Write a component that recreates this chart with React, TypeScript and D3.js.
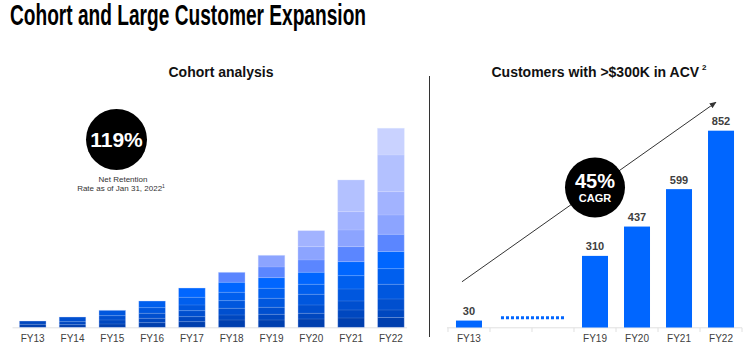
import React from "react";
import * as d3 from "d3";

// ---- Data ----
const cohortYears = ["FY13", "FY14", "FY15", "FY16", "FY17", "FY18", "FY19", "FY20", "FY21", "FY22"];
const cohortNames = ["Pre-FY13", "FY13", "FY14", "FY15", "FY16", "FY17", "FY18", "FY19", "FY20", "FY21", "FY22"];
// ARR contribution by cohort (bottom = oldest cohort), per fiscal year (relative units)
const cohortFY13 = [3, 3.3];
const cohortFY14 = [2.6, 3, 4.7];
const cohortFY15 = [3.3, 4, 4.3, 5.4];
const cohortFY16 = [4.6, 4.4, 5, 5.6, 6.7];
const cohortFY17 = [5.6, 5, 6, 5.7, 7.7, 9.3];
const cohortFY18 = [7.3, 5, 6.7, 7.6, 8.4, 10, 10];
const cohortFY19 = [7.3, 5.7, 7, 9, 10, 10.6, 10.7, 11.7];
const cohortFY20 = [8.3, 5.7, 8.3, 10.7, 10, 12, 12.3, 13.3, 16];
const cohortFY21 = [9.3, 8, 9, 12, 13.3, 14, 15, 16.7, 18.3, 31.7];
const cohortFY22 = [9.8, 7.5, 11, 14.7, 15.6, 17.2, 17.2, 19.3, 23.3, 36.7, 26.7];
const cohortStacks = [cohortFY13, cohortFY14, cohortFY15, cohortFY16, cohortFY17, cohortFY18, cohortFY19, cohortFY20, cohortFY21, cohortFY22];
const cohortColors = ["#003fae", "#0047bf", "#004fcf", "#0057de", "#005fee", "#0066ff", "#5b86ff", "#8ca4ff", "#a2b3ff", "#b3c1ff", "#c9d2ff"];

const acvCategories = ["FY13", "gapA", "gapB", "FY19", "FY20", "FY21", "FY22"];
const acvYears = ["FY13", "FY19", "FY20", "FY21", "FY22"];
const acvValues = [30, 310, 437, 599, 852];

const FONT = "'Liberation Sans', Arial, Helvetica, sans-serif";

export default function App() {
  // Left chart scales
  const xL = d3.scaleBand<string>().domain(cohortYears).range([12.8, 410.8]).paddingInner(0.33).paddingOuter(0.165);
  const yL = d3.scaleLinear().domain([0, 200]).range([327.3, 127.3]);

  // Right chart scales
  const xR = d3.scaleBand<string>().domain(acvCategories).range([448, 742]).paddingInner(0.381).paddingOuter(0.19);
  const yR = d3.scaleLinear().domain([0, 900]).range([327.5, 119.6]);
  const bwR = xR.bandwidth();
  const stepR = xR.step();

  return (
    <svg width={750} height={354} style={{ position: "absolute", left: 0, top: 0, background: "#fff" }} fontFamily={FONT}>
      <defs>
        <marker id="arr" viewBox="0 0 10 10" refX="9" refY="5" markerWidth="7" markerHeight="7" orient="auto">
          <path d="M0,1 L10,5 L0,9 z" fill="#333" />
        </marker>
      </defs>
      {/* Main title */}
      <text x={10} y={25} fontSize={29} fontWeight="bold" fill="#000" textLength={356} lengthAdjust="spacingAndGlyphs"
        fontFamily="'Liberation Sans Narrow', 'Arial Narrow', 'Liberation Sans', Arial, sans-serif">
        Cohort and Large Customer Expansion
      </text>

      {/* Left: Cohort analysis */}
      <text x={221} y={77} fontSize={14} fontWeight="bold" textAnchor="middle" fill="#111">Cohort analysis</text>

      <circle cx={116.5} cy={139.5} r={30.5} fill="#000" />
      <text x={116.5} y={146.5} fontSize={21} fontWeight="bold" textAnchor="middle" fill="#fff">119%</text>
      <text x={123} y={181.5} fontSize={8} textAnchor="middle" fill="#333">Net Retention</text>
      <text x={121} y={190.5} fontSize={8} textAnchor="middle" fill="#333">
        Rate as of Jan 31, 2022<tspan fontSize={5} dy={-3}>1</tspan>
      </text>

      <line x1={12.5} x2={407} y1={327.8} y2={327.8} stroke="#e2e2e2" strokeWidth={1} />
      {cohortStacks.map((stack, i) => {
        const year = cohortYears[i];
        const x = xL(year)!;
        let cum = 0;
        return (
          <g key={year}>
            {stack.map((v, j) => {
              const y0 = cum;
              cum += v;
              return (
                <rect key={cohortNames[j]} x={x} width={xL.bandwidth()} y={yL(cum)} height={yL(y0) - yL(cum)}
                  fill={cohortColors[j]} />
              );
            })}
            {stack.slice(0, -1).map((_, j) => {
              const yy = yL(d3.sum(stack.slice(0, j + 1)));
              return <line key={"s" + j} x1={x} x2={x + xL.bandwidth()} y1={yy} y2={yy} stroke="#ffffff" strokeOpacity={0.18} strokeWidth={0.8} />;
            })}
            <rect x={x} width={xL.bandwidth()} y={yL(cum)} height={yL(0) - yL(cum)} fill="none" stroke="#d6e0ff" strokeOpacity={0.5} strokeWidth={0.7} />
          </g>
        );
      })}
      {cohortYears.map((year) => (
        <text key={year} x={xL(year)! + xL.bandwidth() / 2} y={342} fontSize={10} textAnchor="middle" fill="#404040">{year}</text>
      ))}

      {/* Divider */}
      <line x1={429.5} x2={429.5} y1={76} y2={337} stroke="#333" strokeWidth={1} />

      {/* Right: Customers with >$300K in ACV */}
      <text x={491.5} y={77} fontSize={14} fontWeight="bold" fill="#111">
        Customers with &gt;$300K in ACV<tspan fontSize={8} dx={3} dy={-7}>2</tspan>
      </text>

      <line x1={447} x2={742} y1={327.8} y2={327.8} stroke="#e0e0e0" strokeWidth={1} />
      {d3.range(acvCategories.length + 1).map((i) => {
        const tx = xR.range()[0] + (xR.paddingOuter() - xR.paddingInner() / 2) * stepR + i * stepR;
        return <line key={i} x1={tx} x2={tx} y1={327.8} y2={332} stroke="#e0e0e0" strokeWidth={1} />;
      })}

      <line x1={xR("gapA")! + 3} x2={xR("gapB")! + bwR - 2} y1={yR(42)} y2={yR(42)} stroke="#0066ff" strokeWidth={3} strokeDasharray="3 2" />

      <line x1={xR("FY13")! + bwR / 2 - 7} y1={yR(198)} x2={716} y2={yR(975)} stroke="#333" strokeWidth={1} markerEnd="url(#arr)" />

      {acvYears.map((year, i) => (
        <g key={year}>
          <rect x={xR(year)!} width={bwR} y={yR(acvValues[i])} height={yR(0) - yR(acvValues[i])} fill="#0066ff" />
          <text x={xR(year)! + bwR / 2} y={yR(acvValues[i]) - 5.5} fontSize={11} fontWeight="bold" textAnchor="middle" fill="#404040">
            {acvValues[i]}
          </text>
          <text x={xR(year)! + bwR / 2} y={342} fontSize={10} textAnchor="middle" fill="#404040">{year}</text>
        </g>
      ))}

      <circle cx={xR("FY19")! + bwR / 2} cy={187.5} r={30} fill="#000" />
      <text x={xR("FY19")! + bwR / 2} y={188} fontSize={20} fontWeight="bold" textAnchor="middle" fill="#fff">45%</text>
      <text x={xR("FY19")! + bwR / 2} y={201.5} fontSize={11} fontWeight="bold" textAnchor="middle" fill="#fff">CAGR</text>
    </svg>
  );
}
